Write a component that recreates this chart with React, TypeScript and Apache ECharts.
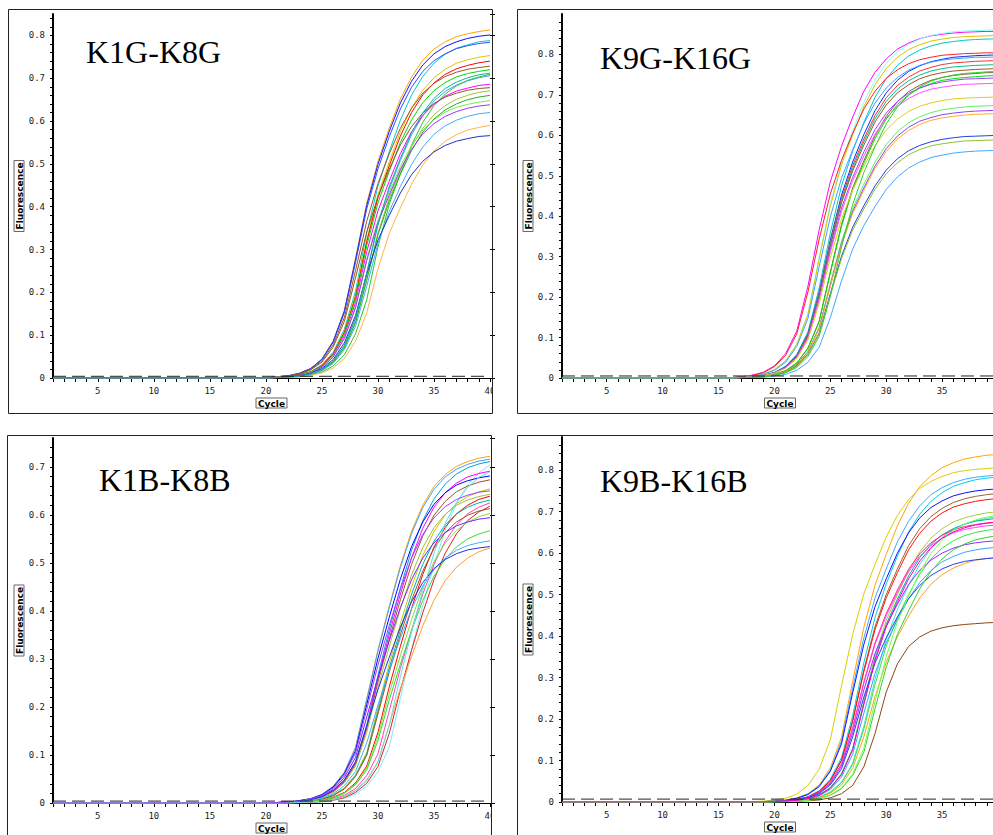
import React, { useEffect, useRef } from "react";
import * as echarts from "echarts";

// Amplification curves.
// Each row = one well, values in thousandths of a fluorescence unit,
// starting at the panel's first listed cycle; earlier cycles sit on the 0 baseline.
const FLUOR_UNIT = 0.001;
const CYCLE_FIRST = 1;
const CYCLE_LAST = 40;

const TITLES = ["K1G-K8G", "K9G-K16G", "K1B-K8B", "K9B-K16B"];
const Y_MAX = [0.85, 0.9, 0.76, 0.88];
const THRESHOLDS = [0.004, 0.005, 0.004, 0.007];
const FIRST_LISTED_CYCLE = [21, 17, 21, 18];
// the right-hand panels run past the picture's edge, so their "40" label is not in view
const LAST_LABEL_VISIBLE = [true, false, true, false];

const k1gK8gCurves: number[][] = [
  [3, 5, 11, 22, 44, 86, 158, 280, 409, 506, 583, 651, 703, 742, 768, 785, 797, 804, 809, 813],
  [3, 5, 11, 22, 44, 85, 156, 276, 403, 499, 575, 642, 693, 731, 757, 774, 785, 793, 798, 801],
  [2, 4, 8, 15, 31, 60, 114, 203, 339, 448, 528, 602, 661, 704, 735, 756, 770, 778, 785, 788],
  [3, 5, 11, 22, 43, 83, 152, 270, 395, 488, 563, 628, 679, 716, 741, 757, 769, 776, 781, 784],
  [2, 4, 7, 15, 29, 58, 109, 194, 323, 428, 504, 575, 631, 672, 701, 721, 735, 743, 749, 753],
  [2, 4, 7, 14, 29, 57, 107, 190, 318, 421, 495, 565, 620, 661, 689, 709, 722, 730, 736, 740],
  [2, 5, 10, 20, 40, 77, 141, 251, 366, 454, 523, 583, 630, 665, 688, 704, 714, 721, 725, 728],
  [2, 3, 7, 14, 28, 55, 104, 185, 309, 409, 482, 550, 603, 643, 671, 690, 703, 711, 716, 720],
  [1, 2, 5, 10, 20, 39, 75, 138, 244, 357, 441, 508, 568, 613, 647, 669, 684, 694, 701, 706],
  [1, 2, 3, 7, 14, 28, 54, 103, 183, 306, 405, 477, 544, 597, 636, 663, 682, 695, 703, 709],
  [2, 3, 7, 13, 27, 53, 99, 176, 295, 390, 459, 524, 575, 613, 639, 658, 670, 677, 683, 686],
  [2, 5, 9, 19, 37, 72, 132, 234, 341, 423, 487, 544, 587, 619, 641, 656, 665, 672, 676, 678],
  [1, 2, 5, 9, 19, 37, 71, 131, 232, 339, 420, 483, 540, 583, 615, 636, 651, 660, 667, 671],
  [1, 2, 4, 9, 18, 36, 70, 129, 228, 334, 413, 476, 531, 574, 605, 626, 640, 650, 656, 660],
  [2, 3, 6, 13, 25, 50, 94, 167, 278, 368, 434, 494, 543, 579, 603, 621, 632, 639, 644, 648],
  [1, 3, 6, 12, 25, 49, 92, 164, 274, 363, 427, 487, 534, 570, 594, 611, 622, 630, 635, 638],
  [1, 2, 4, 9, 17, 34, 66, 121, 214, 314, 388, 447, 499, 539, 569, 589, 602, 611, 617, 620],
  [1, 1, 3, 6, 12, 23, 45, 86, 152, 255, 337, 397, 453, 497, 530, 553, 568, 579, 585, 590],
  [1, 3, 5, 11, 22, 43, 82, 146, 243, 322, 379, 432, 475, 506, 528, 543, 553, 559, 564, 566],
  [1, 2, 5, 10, 20, 39, 76, 139, 246, 360, 446, 513, 573, 619, 653, 676, 691, 701, 708, 712],
];
const k1gK8gColors = ["#ffa500", "#1010ff", "#00cccc", "#3050ff", "#d8c800", "#ff0000", "#a0522d", "#00d800", "#40a0ff", "#30c030", "#ff00ff", "#8b5a2b", "#a8c040", "#20b020", "#70f040", "#9a32ff", "#40aaff", "#ffb347", "#2030c0", "#10b0a0"];

const k9gK16gCurves: number[][] = [
  [3, 7, 14, 30, 60, 116, 227, 366, 485, 573, 645, 709, 756, 789, 813, 828, 839, 846, 850, 853, 855, 856, 857, 857],
  [2, 5, 10, 21, 42, 84, 160, 298, 431, 535, 611, 682, 737, 778, 806, 825, 838, 847, 852, 856, 858, 859, 860, 861],
  [2, 5, 10, 20, 42, 83, 157, 293, 424, 527, 601, 671, 725, 765, 793, 812, 824, 833, 838, 842, 844, 845, 846, 847],
  [2, 3, 7, 14, 29, 58, 114, 222, 358, 475, 561, 632, 694, 740, 773, 796, 811, 821, 828, 832, 835, 837, 838, 839],
  [3, 6, 13, 28, 56, 109, 213, 343, 455, 538, 605, 665, 709, 741, 762, 777, 787, 793, 798, 800, 802, 803, 804, 804],
  [1, 3, 6, 13, 28, 56, 109, 211, 341, 452, 534, 602, 661, 705, 736, 758, 772, 782, 788, 793, 795, 797, 798, 799],
  [2, 4, 9, 19, 39, 78, 147, 275, 398, 494, 564, 629, 680, 717, 743, 761, 773, 781, 786, 789, 791, 793, 793, 794],
  [1, 3, 6, 13, 27, 55, 107, 208, 335, 444, 525, 591, 649, 693, 723, 744, 759, 768, 775, 779, 781, 783, 784, 785],
  [1, 3, 6, 13, 27, 54, 105, 205, 331, 438, 518, 584, 641, 684, 714, 735, 749, 759, 765, 769, 771, 773, 774, 775],
  [1, 3, 6, 13, 26, 53, 104, 202, 326, 433, 512, 576, 633, 675, 705, 725, 740, 749, 755, 759, 761, 763, 764, 765],
  [1, 2, 4, 9, 18, 37, 74, 140, 262, 379, 470, 537, 599, 647, 683, 708, 724, 736, 743, 748, 751, 753, 755, 755],
  [1, 2, 4, 9, 18, 37, 73, 139, 259, 375, 465, 531, 592, 640, 676, 700, 717, 728, 736, 740, 743, 745, 747, 748],
  [1, 3, 6, 12, 26, 52, 101, 196, 317, 420, 496, 559, 614, 655, 684, 704, 717, 726, 732, 736, 739, 740, 741, 742],
  [1, 3, 6, 12, 25, 51, 99, 193, 311, 412, 488, 549, 603, 643, 672, 691, 705, 714, 719, 723, 726, 727, 728, 729],
  [1, 3, 6, 12, 24, 48, 94, 184, 297, 393, 465, 523, 575, 613, 640, 659, 672, 680, 686, 690, 692, 693, 694, 695],
  [1, 2, 4, 8, 16, 33, 66, 125, 234, 338, 419, 479, 534, 577, 609, 631, 646, 656, 663, 667, 670, 672, 673, 674],
  [1, 2, 4, 8, 16, 33, 65, 123, 229, 332, 412, 470, 524, 567, 598, 620, 635, 644, 651, 655, 658, 660, 661, 662],
  [1, 2, 4, 8, 16, 32, 64, 121, 227, 328, 407, 464, 518, 560, 591, 612, 627, 637, 643, 647, 650, 652, 653, 654],
  [1, 2, 3, 7, 14, 30, 59, 111, 208, 301, 373, 426, 475, 514, 542, 562, 575, 584, 590, 594, 597, 598, 599, 600],
  [1, 2, 3, 7, 14, 29, 58, 109, 204, 295, 366, 418, 467, 505, 532, 552, 565, 574, 579, 583, 586, 587, 588, 589],
  [1, 1, 2, 5, 9, 19, 39, 76, 149, 240, 319, 377, 424, 466, 497, 519, 534, 545, 551, 556, 559, 561, 562, 563],
  [1, 1, 3, 6, 13, 26, 53, 103, 201, 324, 429, 508, 572, 628, 670, 699, 720, 734, 743, 749, 753, 755, 757, 758],
];
const k9gK16gColors = ["#ff00ff", "#80ffff", "#e0c000", "#00c8c8", "#ff2020", "#0030ff", "#40a0ff", "#ff3030", "#00c090", "#a0522d", "#806040", "#00e000", "#a040ff", "#ff50ff", "#d8d020", "#60f060", "#9040f0", "#ffaa30", "#2040e0", "#90c030", "#40a8ff", "#30d030"];

const k1bK8bCurves: number[][] = [
  [1, 2, 5, 9, 18, 35, 64, 116, 217, 319, 409, 494, 566, 620, 659, 684, 701, 711, 718, 722],
  [1, 2, 5, 9, 18, 34, 64, 115, 215, 316, 406, 490, 561, 615, 653, 679, 695, 705, 712, 716],
  [1, 2, 3, 7, 13, 25, 47, 86, 162, 266, 360, 447, 526, 588, 633, 664, 685, 698, 706, 711],
  [0, 0, 1, 1, 2, 5, 10, 18, 35, 65, 116, 218, 320, 411, 496, 568, 623, 662, 687, 704],
  [1, 2, 3, 7, 13, 24, 45, 83, 158, 259, 350, 435, 511, 572, 616, 646, 666, 679, 686, 691],
  [1, 2, 5, 9, 17, 33, 61, 109, 205, 301, 386, 466, 534, 585, 622, 646, 662, 671, 677, 681],
  [1, 2, 3, 6, 12, 23, 44, 81, 154, 252, 340, 423, 497, 556, 599, 628, 648, 660, 668, 673],
  [1, 1, 2, 4, 9, 17, 31, 59, 105, 198, 290, 373, 450, 515, 565, 600, 623, 638, 648, 654],
  [1, 2, 3, 6, 12, 22, 42, 77, 147, 241, 325, 404, 475, 532, 573, 601, 620, 631, 638, 643],
  [0, 1, 2, 3, 6, 12, 22, 42, 77, 147, 241, 326, 405, 476, 533, 574, 602, 620, 632, 639],
  [1, 1, 2, 4, 8, 16, 30, 57, 102, 191, 280, 360, 435, 497, 545, 579, 602, 616, 625, 631],
  [0, 1, 1, 2, 4, 8, 16, 30, 57, 102, 191, 280, 360, 435, 497, 545, 579, 602, 616, 625],
  [0, 0, 1, 2, 3, 6, 11, 22, 41, 76, 144, 235, 318, 396, 465, 520, 560, 588, 606, 618],
  [1, 1, 2, 4, 8, 15, 29, 55, 99, 185, 272, 350, 422, 483, 530, 563, 585, 599, 608, 613],
  [0, 1, 2, 3, 6, 11, 21, 40, 73, 139, 227, 307, 382, 449, 502, 541, 567, 585, 596, 603],
  [1, 2, 4, 8, 15, 28, 53, 95, 179, 262, 337, 407, 465, 510, 542, 563, 577, 585, 591, 594],
  [0, 1, 1, 3, 5, 10, 20, 38, 69, 130, 214, 289, 359, 422, 472, 508, 533, 550, 560, 567],
  [1, 1, 3, 5, 10, 19, 36, 66, 125, 204, 276, 343, 404, 452, 486, 510, 526, 536, 542, 546],
  [1, 2, 4, 7, 13, 26, 48, 86, 161, 236, 303, 366, 419, 459, 488, 507, 519, 527, 531, 534],
  [0, 0, 1, 2, 4, 7, 14, 26, 48, 86, 162, 238, 305, 369, 422, 463, 491, 510, 523, 531],
  [0, 0, 1, 2, 3, 7, 13, 25, 46, 85, 161, 263, 356, 442, 520, 582, 626, 657, 678, 690],
  [1, 2, 4, 9, 16, 31, 58, 104, 195, 287, 369, 445, 510, 559, 594, 617, 632, 641, 647, 650],
];
const k1bK8bColors = ["#ffa500", "#40a0ff", "#00a0e0", "#80e8ff", "#ff00ff", "#0000ff", "#a0522d", "#d0c000", "#a0c040", "#ff0000", "#00b0b0", "#ff40c0", "#e02020", "#906030", "#80e040", "#8020ff", "#30e030", "#40b0ff", "#2030e0", "#ffa030", "#60e0e0", "#a040ff"];

const k9bK16bCurves: number[][] = [
  [1, 1, 2, 5, 10, 20, 41, 82, 156, 291, 421, 523, 597, 666, 720, 760, 787, 806, 818, 827, 832, 836, 838],
  [1, 2, 5, 9, 19, 40, 79, 150, 280, 404, 502, 573, 639, 691, 729, 756, 773, 785, 794, 799, 802, 804, 806],
  [0, 1, 2, 4, 9, 19, 39, 77, 147, 274, 396, 492, 562, 627, 677, 714, 741, 758, 770, 778, 783, 786, 788],
  [0, 1, 1, 3, 6, 13, 27, 55, 107, 208, 336, 445, 526, 593, 651, 694, 725, 746, 761, 770, 777, 781, 783],
  [0, 1, 2, 4, 9, 18, 37, 74, 140, 263, 380, 471, 538, 600, 649, 685, 710, 726, 738, 745, 750, 753, 755],
  [0, 1, 1, 3, 6, 12, 26, 52, 101, 197, 319, 423, 500, 562, 618, 659, 688, 708, 722, 731, 737, 741, 744],
  [0, 1, 1, 3, 6, 12, 25, 51, 100, 194, 314, 416, 492, 553, 608, 648, 677, 697, 711, 719, 725, 729, 732],
  [0, 0, 1, 2, 4, 8, 17, 35, 69, 130, 244, 353, 438, 500, 558, 603, 636, 659, 675, 685, 692, 697, 700],
  [0, 0, 1, 1, 3, 6, 12, 24, 48, 94, 183, 296, 392, 464, 522, 573, 611, 638, 657, 670, 678, 684, 688],
  [0, 0, 1, 2, 4, 8, 17, 34, 67, 127, 238, 345, 428, 489, 545, 589, 621, 644, 659, 670, 677, 681, 684],
  [0, 1, 1, 3, 5, 11, 23, 47, 92, 179, 289, 384, 454, 511, 561, 598, 625, 643, 656, 664, 669, 673, 675],
  [0, 1, 1, 3, 5, 11, 23, 47, 91, 177, 286, 380, 449, 505, 555, 592, 618, 636, 649, 657, 662, 666, 668],
  [0, 0, 1, 1, 3, 5, 11, 23, 46, 90, 176, 283, 376, 444, 500, 549, 586, 612, 630, 642, 650, 655, 659],
  [0, 1, 1, 2, 5, 11, 22, 44, 86, 167, 270, 358, 424, 477, 524, 559, 583, 600, 612, 620, 625, 628, 630],
  [0, 0, 1, 2, 3, 7, 15, 30, 60, 115, 214, 310, 384, 439, 490, 529, 558, 579, 592, 602, 608, 612, 614],
  [0, 0, 1, 1, 2, 5, 10, 21, 41, 81, 157, 254, 337, 398, 448, 492, 525, 548, 564, 575, 583, 587, 590],
  [0, 1, 1, 2, 5, 10, 20, 41, 80, 157, 253, 335, 396, 446, 490, 522, 546, 562, 573, 580, 584, 587, 589],
  [0, 0, 1, 1, 2, 3, 5, 10, 20, 40, 85, 165, 265, 333, 375, 398, 412, 420, 425, 428, 430, 432, 433],
  [0, 0, 0, 1, 2, 4, 8, 16, 32, 64, 120, 225, 325, 404, 461, 514, 556, 586, 608, 622, 632, 638, 642],
  [0, 0, 0, 1, 2, 4, 8, 17, 34, 68, 130, 242, 350, 435, 496, 554, 599, 631, 655, 670, 680, 687, 692],
  [0, 0, 1, 2, 4, 8, 16, 33, 66, 126, 235, 340, 422, 482, 538, 581, 613, 636, 651, 661, 668, 672, 675],
];
const k9bK16bColors = ["#ffa500", "#d8d000", "#40a8ff", "#00d0e0", "#1010ff", "#a0602a", "#ff1010", "#a0d040", "#40e0e0", "#00b0a0", "#ff2080", "#ff40ff", "#40e040", "#9030ff", "#40a0ff", "#ffa020", "#2040ff", "#8b4513", "#30d030", "#70ff50", "#ff00c0"];

const PANEL_CURVES = [k1gK8gCurves, k9gK16gCurves, k1bK8bCurves, k9bK16bCurves];
const PANEL_COLORS = [k1gK8gColors, k9gK16gColors, k1bK8bColors, k9bK16bColors];

// ---- layout (pixels) ----
const GRIDS = [
  { left: 53, top: 14, width: 437, height: 364 },
  { left: 562, top: 14, width: 436, height: 364 },
  { left: 53, top: 438, width: 437, height: 365 },
  { left: 562, top: 437, width: 436, height: 365 },
];
const FRAMES = [
  { x: 8.5, y: 9.5, width: 484, height: 404 },
  { x: 517.5, y: 9.5, width: 520, height: 404 },
  { x: 7.5, y: 435.5, width: 484, height: 440 },
  { x: 517.5, y: 435.5, width: 520, height: 440 },
];
const TITLE_POS = [
  { x: 86, y: 52 },
  { x: 600, y: 58 },
  { x: 99, y: 480 },
  { x: 600, y: 481 },
];

const MONO = "DejaVu Sans Mono";

function cycleList(): number[] {
  const out: number[] = [];
  for (let c = CYCLE_FIRST; c <= CYCLE_LAST; c++) out.push(c);
  return out;
}

function yLabel(v: number): string {
  const r = Math.round(v * 100);
  if (r % 10 !== 0) return "";
  return r === 0 ? "0" : (r / 100).toFixed(1);
}

function buildOption() {
  const cycles = cycleList();
  const xAxis: any[] = [];
  const yAxis: any[] = [];
  const series: any[] = [];
  const graphic: any[] = [];

  GRIDS.forEach((_, i) => {
    const showLast = LAST_LABEL_VISIBLE[i];
    xAxis.push({
      type: "value",
      gridIndex: i,
      min: CYCLE_FIRST,
      max: CYCLE_LAST,
      interval: 1,
      name: "Cycle",
      nameLocation: "middle",
      nameGap: 20,
      nameTextStyle: {
        fontFamily: "DejaVu Sans",
        fontWeight: "bold",
        fontSize: 9,
        color: "#000",
        borderColor: "#666",
        borderWidth: 1,
        padding: [1, 2, 0, 2],
      },
      axisLine: { show: true, lineStyle: { color: "#000", width: 1 } },
      axisTick: { show: true, length: 4, lineStyle: { color: "#000", width: 1 } },
      axisLabel: {
        show: true,
        margin: 8,
        fontFamily: MONO,
        fontSize: 9,
        color: "#222",
        showMaxLabel: showLast,
        formatter: (v: number) => (v % 5 === 0 && (showLast || v !== CYCLE_LAST) ? String(v) : ""),
      },
      splitLine: { show: false },
    });
    // minor ticks + labels
    yAxis.push({
      type: "value",
      gridIndex: i,
      min: 0,
      max: Y_MAX[i],
      interval: 0.02,
      name: "Fluorescence",
      nameLocation: "middle",
      nameGap: 29,
      nameRotate: 90,
      nameTextStyle: {
        fontFamily: "DejaVu Sans",
        fontWeight: "bold",
        fontSize: 9,
        color: "#000",
        borderColor: "#666",
        borderWidth: 1,
        padding: [1, 2, 0, 2],
      },
      axisLine: { show: true, lineStyle: { color: "#000", width: 2 } },
      axisTick: { show: true, length: 3, lineStyle: { color: "#000", width: 1 } },
      axisLabel: {
        show: true,
        margin: 8,
        fontFamily: MONO,
        fontSize: 9,
        color: "#222",
        showMaxLabel: false,
        formatter: yLabel,
      },
      splitLine: { show: false },
    });
    // major ticks
    yAxis.push({
      type: "value",
      gridIndex: i,
      min: 0,
      max: Y_MAX[i],
      interval: 0.1,
      axisLine: { show: false },
      axisTick: { show: true, length: 5, lineStyle: { color: "#000", width: 1 } },
      axisLabel: { show: false },
      splitLine: { show: false },
    });

    const start = FIRST_LISTED_CYCLE[i];
    PANEL_CURVES[i].forEach((row, j) => {
      series.push({
        type: "line",
        xAxisIndex: i,
        yAxisIndex: 2 * i,
        data: cycles.map((c) => [c, c < start ? 0 : row[c - start] * FLUOR_UNIT]),
        showSymbol: false,
        symbol: "none",
        silent: true,
        clip: true,
        z: 2,
        lineStyle: { width: 1, color: PANEL_COLORS[i][j] },
        itemStyle: { color: PANEL_COLORS[i][j] },
        emphasis: { disabled: true },
      });
    });
    series.push({
      type: "line",
      xAxisIndex: i,
      yAxisIndex: 2 * i,
      data: [
        [CYCLE_FIRST, THRESHOLDS[i]],
        [CYCLE_LAST, THRESHOLDS[i]],
      ],
      showSymbol: false,
      symbol: "none",
      silent: true,
      z: 5,
      lineStyle: { width: 1, color: "#222", type: [13, 6] },
      emphasis: { disabled: true },
    });

    graphic.push({
      type: "text",
      x: TITLE_POS[i].x,
      y: TITLE_POS[i].y,
      z: 120,
      style: {
        text: TITLES[i],
        fontFamily: "Liberation Serif",
        fontSize: 32,
        fill: "#000",
        align: "left",
        verticalAlign: "middle",
      },
    });
  });

  // white covers that clip the "40" label at the left panels' right frame edge
  graphic.push({ type: "rect", z: 110, shape: { x: 493, y: 380, width: 23, height: 33 }, style: { fill: "#fff" } });
  graphic.push({ type: "rect", z: 110, shape: { x: 492, y: 805, width: 25, height: 30 }, style: { fill: "#fff" } });

  FRAMES.forEach((f) => {
    graphic.push({
      type: "rect",
      z: 115,
      shape: { x: f.x, y: f.y, width: f.width, height: f.height },
      style: { fill: "none", stroke: "#222", lineWidth: 1 },
    });
  });

  return {
    animation: false,
    backgroundColor: "#fff",
    grid: GRIDS.map((g) => ({ ...g, containLabel: false, outerBoundsMode: "none" })),
    xAxis,
    yAxis,
    series,
    graphic,
  };
}

export default function App() {
  const ref = useRef<HTMLDivElement>(null);
  useEffect(() => {
    if (!ref.current) return;
    const chart = echarts.init(ref.current, undefined, { renderer: "svg" });
    chart.setOption(buildOption() as any);
    return () => chart.dispose();
  }, []);
  return (
    <div
      ref={ref}
      style={{ position: "absolute", left: 0, top: 0, width: 993, height: 835, background: "#fff" }}
    />
  );
}
